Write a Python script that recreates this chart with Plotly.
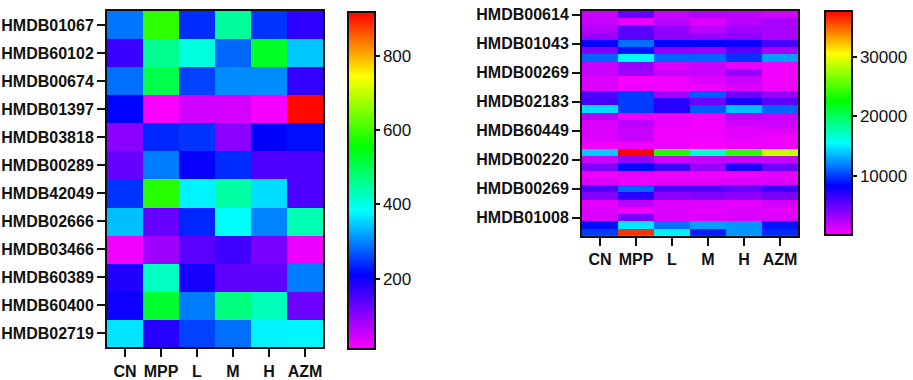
import plotly.graph_objects as go

groups = ["CN", "MPP", "L", "M", "H", "AZM"]

left_labels = ["HMDB01067", "HMDB60102", "HMDB00674", "HMDB01397", "HMDB03818", "HMDB00289",
               "HMDB42049", "HMDB02666", "HMDB03466", "HMDB60389", "HMDB60400", "HMDB02719"]
left_values = [
    [290, 590, 240, 450, 245, 175],
    [165, 460, 405, 280, 530, 345],
    [285, 505, 255, 305, 305, 170],
    [212, 15, 45, 43, 18, 915],
    [100, 235, 245, 100, 210, 220],
    [130, 295, 205, 240, 150, 150],
    [245, 585, 375, 445, 360, 150],
    [340, 130, 235, 385, 300, 435],
    [20, 85, 140, 160, 115, 25],
    [185, 425, 192, 135, 135, 295],
    [200, 525, 295, 470, 430, 125],
    [365, 180, 255, 285, 375, 378],
]

right_tick_rows = [0, 4, 8, 12, 16, 20, 24, 28]
right_tick_labels = ["HMDB00614", "HMDB01043", "HMDB00269", "HMDB02183",
                     "HMDB60449", "HMDB00220", "HMDB00269", "HMDB01008"]
right_values = [
    [1900, 5100, 1900, 2500, 2200, 1600],
    [1900, 700, 2200, 1200, 2200, 2850],
    [2500, 5500, 3500, 2200, 3200, 2850],
    [3500, 5500, 3800, 3500, 3800, 2850],
    [8050, 11450, 8370, 8370, 8050, 6100],
    [4150, 8900, 3800, 3500, 5450, 2850],
    [11200, 15400, 11200, 11200, 9800, 12850],
    [1900, 3500, 1250, 1900, 900, 600],
    [1900, 3200, 1900, 1900, 3500, 600],
    [1250, 300, 600, 1250, 1900, 600],
    [1250, 600, 600, 600, 1250, 600],
    [5800, 10050, 3200, 10900, 4800, 3500],
    [6100, 10050, 7100, 4800, 7700, 5450],
    [14500, 10050, 7100, 10900, 13700, 11200],
    [2500, 600, 600, 600, 2200, 1900],
    [1250, 2300, 900, 600, 1500, 1700],
    [1250, 1900, 600, 600, 900, 1250],
    [1250, 1900, 600, 600, 900, 600],
    [600, 600, 600, 350, 600, 600],
    [14000, 37700, 23600, 17000, 24000, 28900],
    [1900, 3500, 1550, 1900, 1900, 1900],
    [4150, 8650, 6400, 3500, 7400, 4800],
    [600, 900, 600, 600, 600, 900],
    [1250, 600, 900, 900, 1250, 1250],
    [5800, 11200, 5800, 5800, 5100, 6400],
    [4150, 7100, 3800, 4150, 3800, 4500],
    [900, 2200, 1250, 1250, 900, 1550],
    [1250, 600, 1250, 900, 1250, 900],
    [1250, 4500, 1250, 1250, 1250, 1250],
    [8650, 14800, 11450, 12850, 12550, 8900],
    [10050, 36300, 15100, 9200, 12550, 9500],
]

left_range = [10, 920]
right_range = [100, 37700]
left_cb_ticks = [200, 400, 600, 800]
right_cb_ticks = [10000, 20000, 30000]

rainbow = [[0.0, "#ff00ff"], [0.22, "#0000ff"], [0.41, "#00ffff"],
           [0.60, "#00ff00"], [0.81, "#ffff00"], [1.0, "#ff0000"]]

W, H = 913, 380
def px(x):
    return x / W
def py(y):
    return 1 - y / H

cbfont = dict(family="Liberation Sans, Arial, sans-serif", size=17, color="#111")

fig = go.Figure()
fig.add_trace(go.Heatmap(
    z=left_values, x=groups, y=list(range(len(left_labels))),
    colorscale=rainbow, zmin=left_range[0], zmax=left_range[1],
    xaxis="x", yaxis="y", hoverinfo="skip",
    colorbar=dict(x=px(348), xanchor="left", y=py(7), yanchor="top",
                  len=341 / H, lenmode="fraction", thickness=27,
                  outlinewidth=2, outlinecolor="#111",
                  tickvals=left_cb_ticks, ticks="outside", ticklen=4,
                  tickwidth=2, tickcolor="#111", tickfont=cbfont,
                  tickformat="d", xpad=0, ypad=0),
))
fig.add_trace(go.Heatmap(
    z=right_values, x=groups, y=list(range(len(right_values))),
    colorscale=rainbow, zmin=right_range[0], zmax=right_range[1],
    xaxis="x2", yaxis="y2", hoverinfo="skip",
    colorbar=dict(x=px(825), xanchor="left", y=py(6), yanchor="top",
                  len=227 / H, lenmode="fraction", thickness=27,
                  outlinewidth=2, outlinecolor="#111",
                  tickvals=right_cb_ticks, ticks="outside", ticklen=4,
                  tickwidth=2, tickcolor="#111", tickfont=cbfont,
                  tickformat="d", xpad=0, ypad=0),
))

tickfont = dict(family="Liberation Sans, Arial, sans-serif", size=16, color="#111", weight="bold")
axis_common = dict(showline=True, linewidth=2, linecolor="#111", mirror=True,
                   ticks="outside", ticklen=8, tickwidth=2, tickcolor="#111",
                   tickfont=tickfont, showgrid=False, zeroline=False,
                   ticklabeloverflow="allow")

fig.update_layout(
    width=W, height=H, margin=dict(l=0, r=0, t=0, b=0),
    paper_bgcolor="white", plot_bgcolor="white", showlegend=False,
    xaxis=dict(domain=[px(107), px(323)], anchor="y", **axis_common),
    yaxis=dict(domain=[py(347), py(6)], anchor="x", autorange="reversed",
               tickvals=list(range(len(left_labels))), ticktext=left_labels,
               **axis_common),
    xaxis2=dict(domain=[px(582), px(798)], anchor="y2", **axis_common),
    yaxis2=dict(domain=[py(234), py(6)], anchor="x2", autorange="reversed",
                tickvals=right_tick_rows, ticktext=right_tick_labels,
                **axis_common),
)

fig.write_html("out.html",
               config={"displayModeBar": False, "staticPlot": True},
               post_script="document.body.style.margin='0';document.body.style.overflow='hidden';")
